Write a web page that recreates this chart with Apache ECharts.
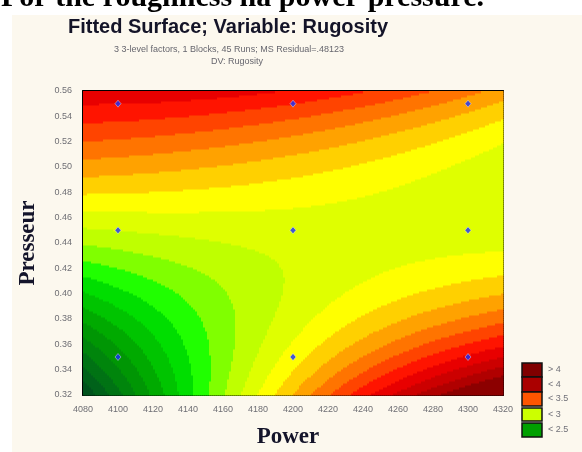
<!DOCTYPE html>
<html>
<head>
<meta charset="utf-8">
<script src="https://cdn.jsdelivr.net/npm/echarts@6/dist/echarts.min.js"></script>
<style>
  html, body { margin: 0; padding: 0; background: #ffffff; }
  #chart { width: 582px; height: 452px; }
</style>
</head>
<body>
<div id="chart"></div>
<script>
// Design of the experiment: 3 levels of power and pressure
const designPower = [4100, 4200, 4300];
const designPressure = [0.35, 0.45, 0.55];
// Fitted rugosity at the design runs (rows follow designPressure, columns designPower)
const fittedRugosity = [
  [2.35, 3.15, 3.72],
  [3.00, 3.05, 3.05],
  [3.70, 3.60, 3.35]
];

// Axis ranges and tick steps
const powerRange = [4080, 4320];
const powerStep = 20;
const pressureRange = [0.32, 0.56];
const pressureStep = 0.02;

// Contour levels and band colours (lowest band first)
const levelBounds = [2.0, 2.1, 2.2, 2.3, 2.4, 2.5, 2.6, 2.7, 2.8, 2.9, 3.0,
                     3.1, 3.2, 3.3, 3.4, 3.5, 3.6, 3.7, 3.8, 3.9, 4.0];
const bandColors = ['#00521c', '#00621a', '#007314', '#00850c', '#009604', '#00aa00',
                    '#00c400', '#00de00', '#20ff00', '#80ff00', '#bfff00', '#dfff00',
                    '#ffff00', '#ffd000', '#ffa200', '#ff7400', '#ff4400', '#ff1400',
                    '#e80000', '#cc0000', '#b00000', '#8c0000'];

// Legend entries
const legendLabels = ['> 4', '< 4', '< 3.5', '< 3', '< 2.5'];
const legendColors = ['#800000', '#aa0000', '#ff5500', '#ccff00', '#00a000'];

// Quadratic response surface through the fitted values at the 3x3 runs
function lagrange3(t, nodes) {
  const [a, b, c] = nodes;
  return [
    (t - b) * (t - c) / ((a - b) * (a - c)),
    (t - a) * (t - c) / ((b - a) * (b - c)),
    (t - a) * (t - b) / ((c - a) * (c - b))
  ];
}
function surface(power, pressure) {
  const lu = lagrange3(power, designPower);
  const lv = lagrange3(pressure, designPressure);
  let z = 0;
  for (let i = 0; i < 3; i++) {
    for (let j = 0; j < 3; j++) {
      z += lv[i] * lu[j] * fittedRugosity[i][j];
    }
  }
  return z;
}

// Sample the surface on a fine raster (about 2 px per cell)
const nx = 210, ny = 152;
const dx = (powerRange[1] - powerRange[0]) / nx;
const dy = (pressureRange[1] - pressureRange[0]) / ny;
const cells = [];
for (let i = 0; i < nx; i++) {
  const xc = powerRange[0] + (i + 0.5) * dx;
  for (let j = 0; j < ny; j++) {
    const yc = pressureRange[0] + (j + 0.5) * dy;
    cells.push([xc, yc, surface(xc, yc)]);
  }
}

const runs = [];
designPressure.forEach(p => designPower.forEach(w => runs.push([w, p])));

const pieces = bandColors.map((c, k) => {
  const piece = { color: c };
  if (k > 0) piece.gte = levelBounds[k - 1];
  if (k < levelBounds.length) piece.lt = levelBounds[k];
  return piece;
});

const tickFont = { color: '#6e6e74', fontSize: 9, fontFamily: 'Liberation Sans, Arial, sans-serif' };
const frameLine = { show: true, lineStyle: { color: '#000', width: 2 } };
const innerTicks = { show: true, inside: true, length: 3, lineStyle: { color: '#000', width: 1.5 } };

const grid = { left: 83, top: 91, width: 420, height: 304 };

const legendGraphics = [];
const swatchTops = [363, 377, 392, 408, 423];
const swatchHeights = [14, 15, 14, 13, 14];
legendLabels.forEach((lab, k) => {
  legendGraphics.push({
    type: 'rect', z: 10,
    shape: { x: 522, y: swatchTops[k], width: 20, height: swatchHeights[k] },
    style: { fill: legendColors[k], stroke: '#111', lineWidth: 1.5 }
  });
  legendGraphics.push({
    type: 'text', z: 10,
    style: { x: 548, y: swatchTops[k] + swatchHeights[k] / 2, text: lab,
             fill: '#707078', font: '9px "Liberation Sans", Arial, sans-serif',
             verticalAlign: 'middle', align: 'left' }
  });
});

const chart = echarts.init(document.getElementById('chart'), null, { renderer: 'canvas' });
chart.setOption({
  animation: false,
  backgroundColor: '#ffffff',
  graphic: [
    { type: 'rect', z: -100, silent: true,
      shape: { x: 12, y: 15, width: 570, height: 437 },
      style: { fill: '#fcf8ee' } },
    { type: 'text', z: 5,
      style: { x: 1, y: -2, text: 'For the roughness na power-pressure.',
               font: 'bold 30px "Liberation Serif", "Times New Roman", serif',
               fill: '#000', align: 'left', verticalAlign: 'middle' } },
    { type: 'text', z: 5,
      style: { x: 228, y: 27, text: 'Fitted Surface; Variable: Rugosity',
               font: 'bold 20px "Liberation Sans", Arial, sans-serif',
               fill: '#141428', align: 'center', verticalAlign: 'middle' } },
    { type: 'text', z: 5,
      style: { x: 229, y: 50, text: '3 3-level factors, 1 Blocks, 45 Runs; MS Residual=.48123',
               font: '9px "Liberation Sans", Arial, sans-serif',
               fill: '#66666e', align: 'center', verticalAlign: 'middle' } },
    { type: 'text', z: 5,
      style: { x: 237, y: 62, text: 'DV: Rugosity',
               font: '9px "Liberation Sans", Arial, sans-serif',
               fill: '#66666e', align: 'center', verticalAlign: 'middle' } },
    { type: 'text', z: 5, rotation: Math.PI / 2, x: 28, y: 243,
      style: { x: 0, y: 0, text: 'Presseur',
               font: 'bold 23px "Liberation Serif", "Times New Roman", serif',
               fill: '#14142a', align: 'center', verticalAlign: 'middle' } },
    { type: 'text', z: 5,
      style: { x: 288, y: 437, text: 'Power',
               font: 'bold 23px "Liberation Serif", "Times New Roman", serif',
               fill: '#14142a', align: 'center', verticalAlign: 'middle' } }
  ].concat(legendGraphics),
  grid: grid,
  xAxis: [
    { type: 'value', position: 'bottom', min: powerRange[0], max: powerRange[1], interval: powerStep,
      axisLine: frameLine, axisTick: innerTicks, splitLine: { show: false },
      axisLabel: Object.assign({ margin: 10, formatter: v => String(v) }, tickFont) },
    { type: 'value', position: 'top', min: powerRange[0], max: powerRange[1], interval: powerStep,
      axisLine: frameLine, axisTick: innerTicks, splitLine: { show: false },
      axisLabel: { show: false } }
  ],
  yAxis: [
    { type: 'value', position: 'left', min: pressureRange[0], max: pressureRange[1], interval: pressureStep,
      axisLine: frameLine, axisTick: innerTicks, splitLine: { show: false },
      axisLabel: Object.assign({ margin: 11, formatter: v => v.toFixed(2) }, tickFont) },
    { type: 'value', position: 'right', min: pressureRange[0], max: pressureRange[1], interval: pressureStep,
      axisLine: frameLine, axisTick: innerTicks, splitLine: { show: false },
      axisLabel: { show: false } }
  ],
  visualMap: {
    type: 'piecewise', show: false, dimension: 2, seriesIndex: 0, pieces: pieces
  },
  series: [
    {
      type: 'custom',
      data: cells,
      encode: { x: 0, y: 1 },
      z: 1,
      renderItem: function (params, api) {
        const xc = api.value(0), yc = api.value(1);
        const p0 = api.coord([xc - dx / 2, yc + dy / 2]);
        const p1 = api.coord([xc + dx / 2, yc - dy / 2]);
        return {
          type: 'rect',
          shape: { x: p0[0], y: p0[1], width: p1[0] - p0[0] + 0.5, height: p1[1] - p0[1] + 0.5 },
          style: { fill: api.visual('color') }
        };
      }
    },
    {
      type: 'scatter',
      data: runs,
      symbol: 'diamond',
      symbolSize: [6, 7],
      z: 5,
      itemStyle: { color: '#1630ff', borderColor: '#ffffff', borderWidth: 0.5 }
    }
  ]
});
</script>
</body>
</html>
